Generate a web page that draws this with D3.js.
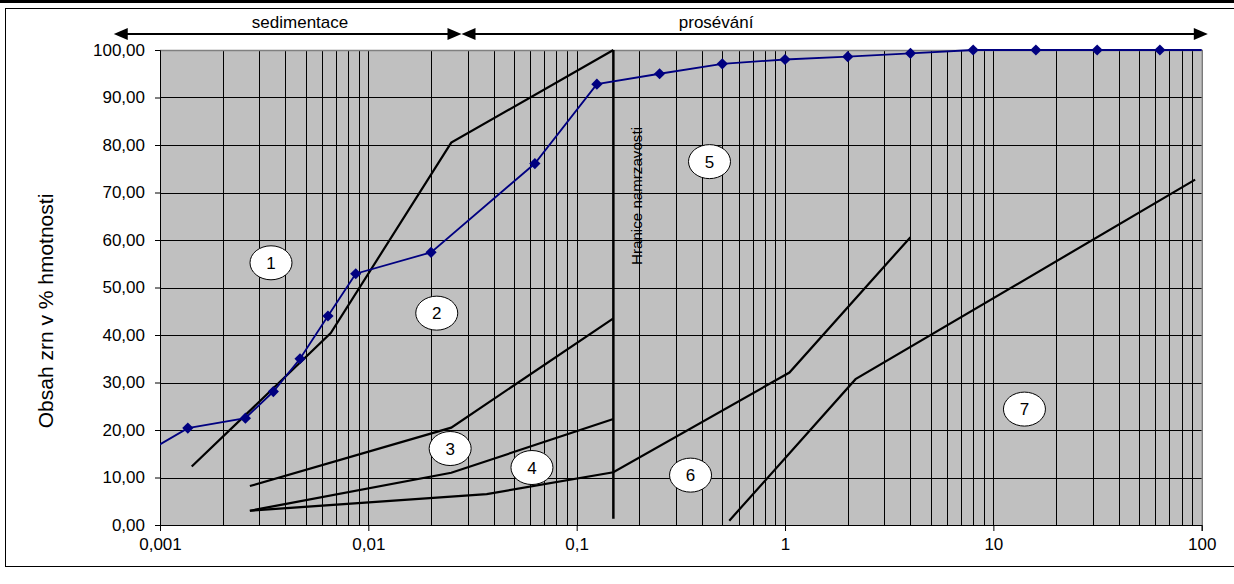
<!DOCTYPE html>
<html>
<head>
<meta charset="utf-8">
<script src="https://cdn.jsdelivr.net/npm/d3@7"></script>
<style>
  html, body { margin: 0; padding: 0; background: #fff; }
  svg { display: block; font-family: "Liberation Sans", Arial, sans-serif; }
</style>
</head>
<body>
<svg id="chart" width="1234" height="584"></svg>
<script>
// Grain size distribution (mm) and percent passing, sedimentation + sieving
const grainSize = [0.0009, 0.00136, 0.00257, 0.0035, 0.0047, 0.0064, 0.0087, 0.02,
                   0.063, 0.125, 0.25, 0.5, 1, 2, 4, 8, 16, 31.5, 63, 125];
const passing   = [15.8, 20.4, 22.5, 28.1, 35.0, 44.0, 52.9, 57.4,
                   76.1, 92.8, 95.0, 97.1, 98.0, 98.6, 99.3, 100, 100, 100, 100, 100];

// Zone boundary curves [grain size mm, percent]
const curve12 = [[0.00142, 12.3], [0.0066, 40.4], [0.025, 80.5], [0.15, 100]];
const curve23 = [[0.0027, 8.2], [0.025, 20.5], [0.15, 43.5]];
const curve34 = [[0.0027, 3.0], [0.025, 11.0], [0.15, 22.3]];
const curve46 = [[0.0027, 3.0], [0.037, 6.5], [0.15, 11.1], [1.05, 32.1], [4.0, 60.6]];
const curve67 = [[0.54, 0.9], [2.18, 30.7], [93, 72.7]];

// Frost susceptibility limit
const frostLimitSize = 0.15;
const frostLimitRange = [1.3, 100];
const frostLimitLabel = "Hranice namrzavosti";

// Zone markers
const zoneNames = ["1", "2", "3", "4", "5", "6", "7"];
const zoneSize  = [0.00341, 0.0213, 0.0247, 0.061, 0.434, 0.352, 14.1];
const zonePct   = [55.2, 44.6, 16.1, 12.1, 76.5, 10.5, 24.4];

// Method ranges shown above the plot
const methodNames  = ["sedimentace", "prosévání"];
const methodRanges = [[0.0006, 0.028], [0.028, 107]];
const methodLabelAt = [0.0047, 0.467];

// Axis ticks
const xTickValues = [0.001, 0.01, 0.1, 1, 10, 100];
const xTickLabels = ["0,001", "0,01", "0,1", "1", "10", "100"];
const yTickValues = [0, 10, 20, 30, 40, 50, 60, 70, 80, 90, 100];
const yTitle = "Obsah zrn v % hmotnosti";

const svg = d3.select("#chart");
const W = 1234, H = 584;
const plot = { left: 160, right: 1201.7, top: 50, bottom: 525 };

const x = d3.scaleLog().domain([0.001, 100]).range([plot.left, plot.right]);
const y = d3.scaleLinear().domain([0, 100]).range([plot.bottom, plot.top]);

const csLocale = d3.formatLocale({ decimal: ",", thousands: " ", grouping: [3], currency: ["", " Kč"] });
const fmtY = csLocale.format(".2f");

// Outer frame
svg.append("rect").attr("x", 0).attr("y", 0).attr("width", W).attr("height", 3).attr("fill", "#000");
svg.append("rect").attr("x", 5.5).attr("y", 8.5).attr("width", W).attr("height", 558)
  .attr("fill", "none").attr("stroke", "#000").attr("stroke-width", 1);

// Plot background
svg.append("rect")
  .attr("x", plot.left).attr("y", plot.top)
  .attr("width", plot.right - plot.left).attr("height", plot.bottom - plot.top)
  .attr("fill", "#c0c0c0");

// Grid
const grid = svg.append("g").attr("shape-rendering", "crispEdges");
grid.selectAll("line.v").data(x.ticks()).join("line")
  .attr("x1", d => Math.round(x(d)) + 0.5).attr("x2", d => Math.round(x(d)) + 0.5)
  .attr("y1", plot.top).attr("y2", plot.bottom)
  .attr("stroke", "#000").attr("stroke-width", 1);
grid.selectAll("line.h").data(yTickValues).join("line")
  .attr("x1", plot.left).attr("x2", plot.right)
  .attr("y1", d => Math.round(y(d)) + 0.5).attr("y2", d => Math.round(y(d)) + 0.5)
  .attr("stroke", "#000").attr("stroke-width", 1);

// Plot border (top/right)
svg.append("path")
  .attr("d", `M${plot.left},${plot.top + 0.5}H${plot.right + 0.5}V${plot.bottom}`)
  .attr("fill", "none").attr("stroke", "#808080").attr("stroke-width", 1.5);

// Axes
const fontSize = 17;
const yAxis = d3.axisLeft(y).tickValues(yTickValues).tickSize(5).tickPadding(10).tickFormat(fmtY);
const gy = svg.append("g").attr("transform", `translate(${plot.left},0)`).call(yAxis);
gy.select(".domain").attr("stroke", "#000");
gy.selectAll(".tick line").attr("stroke", "#000");
gy.selectAll(".tick text").attr("font-size", fontSize).attr("fill", "#000")
  .attr("font-family", "Liberation Sans, Arial, sans-serif");

const xAxis = d3.axisBottom(x).tickValues(xTickValues).tickSize(6).tickPadding(7)
  .tickFormat((d, i) => xTickLabels[i]);
const gx = svg.append("g").attr("transform", `translate(0,${plot.bottom})`).call(xAxis);
gx.select(".domain").attr("stroke", "#000");
gx.selectAll(".tick line").attr("stroke", "#000");
gx.selectAll(".tick text").attr("font-size", fontSize).attr("fill", "#000")
  .attr("font-family", "Liberation Sans, Arial, sans-serif");

// Y axis title
svg.append("text")
  .attr("transform", `translate(53,311) rotate(-90)`)
  .attr("text-anchor", "middle")
  .attr("font-size", 21)
  .attr("fill", "#000")
  .text(yTitle);

// Clip region for the data
svg.append("clipPath").attr("id", "plotClip").append("rect")
  .attr("x", plot.left).attr("y", plot.top - 8)
  .attr("width", plot.right - plot.left).attr("height", plot.bottom - plot.top + 16);

const data = svg.append("g").attr("clip-path", "url(#plotClip)");
const lineGen = d3.line().x(d => x(d[0])).y(d => y(d[1]));

// Zone boundary curves
[curve12, curve23, curve34, curve46, curve67].forEach(c => {
  data.append("path").attr("d", lineGen(c))
    .attr("fill", "none").attr("stroke", "#000").attr("stroke-width", 2.2)
    .attr("stroke-linejoin", "miter");
});

// Frost limit line
data.append("line")
  .attr("x1", x(frostLimitSize)).attr("x2", x(frostLimitSize))
  .attr("y1", y(frostLimitRange[0])).attr("y2", y(frostLimitRange[1]))
  .attr("stroke", "#000").attr("stroke-width", 2.5);

svg.append("text")
  .attr("transform", `translate(${x(frostLimitSize) + 29},196) rotate(-90)`)
  .attr("text-anchor", "middle")
  .attr("font-size", 14)
  .attr("textLength", 138).attr("lengthAdjust", "spacingAndGlyphs")
  .attr("fill", "#000")
  .text(frostLimitLabel);

// Measured grading curve
const pts = grainSize.map((g, i) => [g, passing[i]]);
data.append("path").attr("d", lineGen(pts))
  .attr("fill", "none").attr("stroke", "#000080").attr("stroke-width", 1.8);
data.selectAll("path.mk").data(pts).join("path")
  .attr("class", "mk")
  .attr("d", "M0,-5.6L5.6,0L0,5.6L-5.6,0Z")
  .attr("transform", d => `translate(${x(d[0])},${y(d[1])})`)
  .attr("fill", "#000080");

// Zone markers
const zones = svg.append("g");
zoneNames.forEach((n, i) => {
  const cx = x(zoneSize[i]), cy = y(zonePct[i]);
  zones.append("ellipse").attr("cx", cx).attr("cy", cy).attr("rx", 21).attr("ry", 17)
    .attr("fill", "#fff").attr("stroke", "#000").attr("stroke-width", 1);
  zones.append("text").attr("x", cx).attr("y", cy).attr("dy", "0.36em")
    .attr("text-anchor", "middle").attr("font-size", 17).attr("fill", "#000").text(n);
});

// Method arrows above the plot
const arrowY = 34;
const head = (tip, dir) => {
  const len = 14, half = 6;
  return `M${tip},${arrowY}L${tip - dir * len},${arrowY - half}L${tip - dir * len},${arrowY + half}Z`;
};
methodNames.forEach((name, i) => {
  const x0 = x(methodRanges[i][0]), x1 = x(methodRanges[i][1]);
  svg.append("line").attr("x1", x0 + 4).attr("x2", x1 - 4).attr("y1", arrowY).attr("y2", arrowY)
    .attr("stroke", "#000").attr("stroke-width", 2);
  svg.append("path").attr("d", head(x0, -1)).attr("fill", "#000");
  svg.append("path").attr("d", head(x1, 1)).attr("fill", "#000");
  svg.append("text").attr("x", x(methodLabelAt[i])).attr("y", 28)
    .attr("text-anchor", "middle").attr("font-size", 17).attr("fill", "#000").text(name);
});
</script>
</body>
</html>
